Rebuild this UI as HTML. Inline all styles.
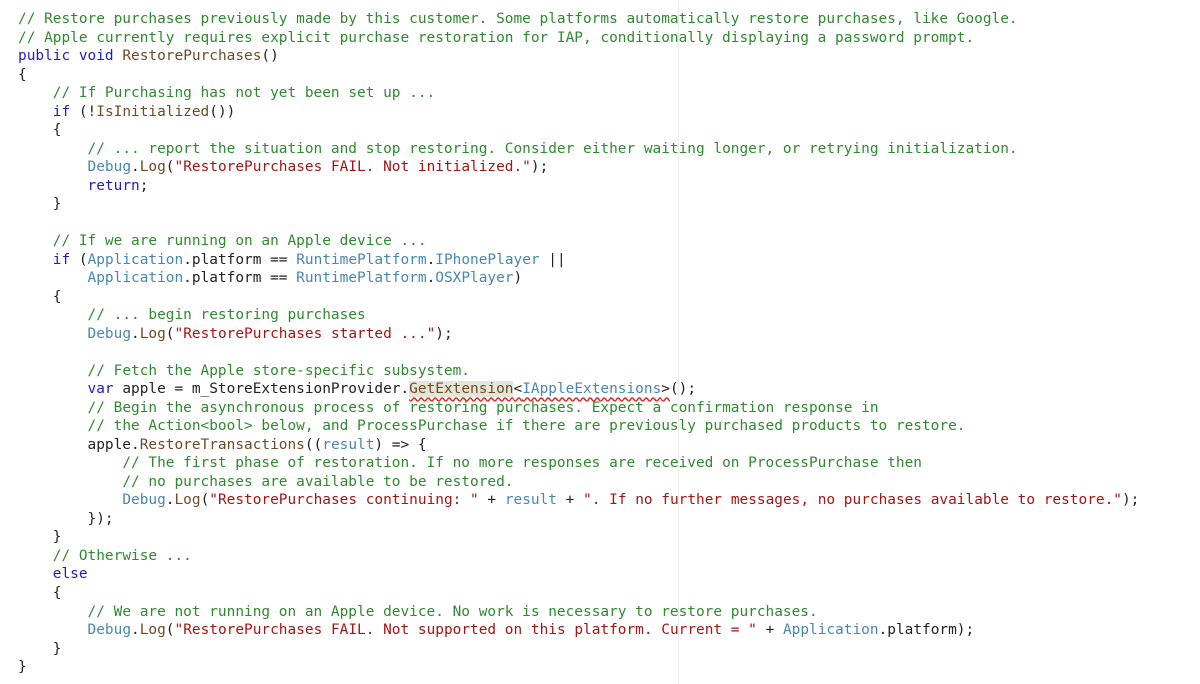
<!DOCTYPE html>
<html><head><meta charset="utf-8"><style>
html,body{margin:0;padding:0;background:#fff;width:1200px;height:684px;overflow:hidden;position:relative}
pre{position:absolute;left:18px;top:10px;margin:0;font-family:"DejaVu Sans Mono","Liberation Mono",monospace;font-size:14.45px;line-height:18.51px;color:#222}
.c{color:#2f8a2f}.k{color:#1d1dc4}.m{color:#6e4a26}.t{color:#4a86b0}.s{color:#a31515}
.h{background:#e6e6d8;text-decoration:underline wavy #e02020;text-underline-offset:3px}
.u{text-decoration:underline wavy #e02020;text-underline-offset:3px}
.g{position:absolute;top:0;width:1px;height:684px;background:#ececec;left:678px}
</style></head><body>
<div class="g"></div>
<pre><span class="c">// Restore purchases previously made by this customer. Some platforms automatically restore purchases, like Google.</span>
<span class="c">// Apple currently requires explicit purchase restoration for IAP, conditionally displaying a password prompt.</span>
<span class="k">public</span> <span class="k">void</span> <span class="m">RestorePurchases</span>()
{
    <span class="c">// If Purchasing has not yet been set up ...</span>
    <span class="k">if</span> (!<span class="m">IsInitialized</span>())
    {
        <span class="c">// ... report the situation and stop restoring. Consider either waiting longer, or retrying initialization.</span>
        <span class="t">Debug</span>.<span class="m">Log</span>(<span class="s">"RestorePurchases FAIL. Not initialized."</span>);
        <span class="k">return</span>;
    }

    <span class="c">// If we are running on an Apple device ...</span>
    <span class="k">if</span> (<span class="t">Application</span>.platform == <span class="t">RuntimePlatform</span>.<span class="t">IPhonePlayer</span> ||
        <span class="t">Application</span>.platform == <span class="t">RuntimePlatform</span>.<span class="t">OSXPlayer</span>)
    {
        <span class="c">// ... begin restoring purchases</span>
        <span class="t">Debug</span>.<span class="m">Log</span>(<span class="s">"RestorePurchases started ..."</span>);

        <span class="c">// Fetch the Apple store-specific subsystem.</span>
        <span class="k">var</span> apple = m_StoreExtensionProvider.<span class="h m">GetExtension</span><span class="u">&lt;<span class="t">IAppleExtensions</span>&gt;</span>();
        <span class="c">// Begin the asynchronous process of restoring purchases. Expect a confirmation response in</span>
        <span class="c">// the Action&lt;bool&gt; below, and ProcessPurchase if there are previously purchased products to restore.</span>
        apple.<span class="m">RestoreTransactions</span>((<span class="t">result</span>) =&gt; {
            <span class="c">// The first phase of restoration. If no more responses are received on ProcessPurchase then</span>
            <span class="c">// no purchases are available to be restored.</span>
            <span class="t">Debug</span>.<span class="m">Log</span>(<span class="s">"RestorePurchases continuing: "</span> + <span class="t">result</span> + <span class="s">". If no further messages, no purchases available to restore."</span>);
        });
    }
    <span class="c">// Otherwise ...</span>
    <span class="k">else</span>
    {
        <span class="c">// We are not running on an Apple device. No work is necessary to restore purchases.</span>
        <span class="t">Debug</span>.<span class="m">Log</span>(<span class="s">"RestorePurchases FAIL. Not supported on this platform. Current = "</span> + <span class="t">Application</span>.platform);
    }
}</pre>
</body></html>
